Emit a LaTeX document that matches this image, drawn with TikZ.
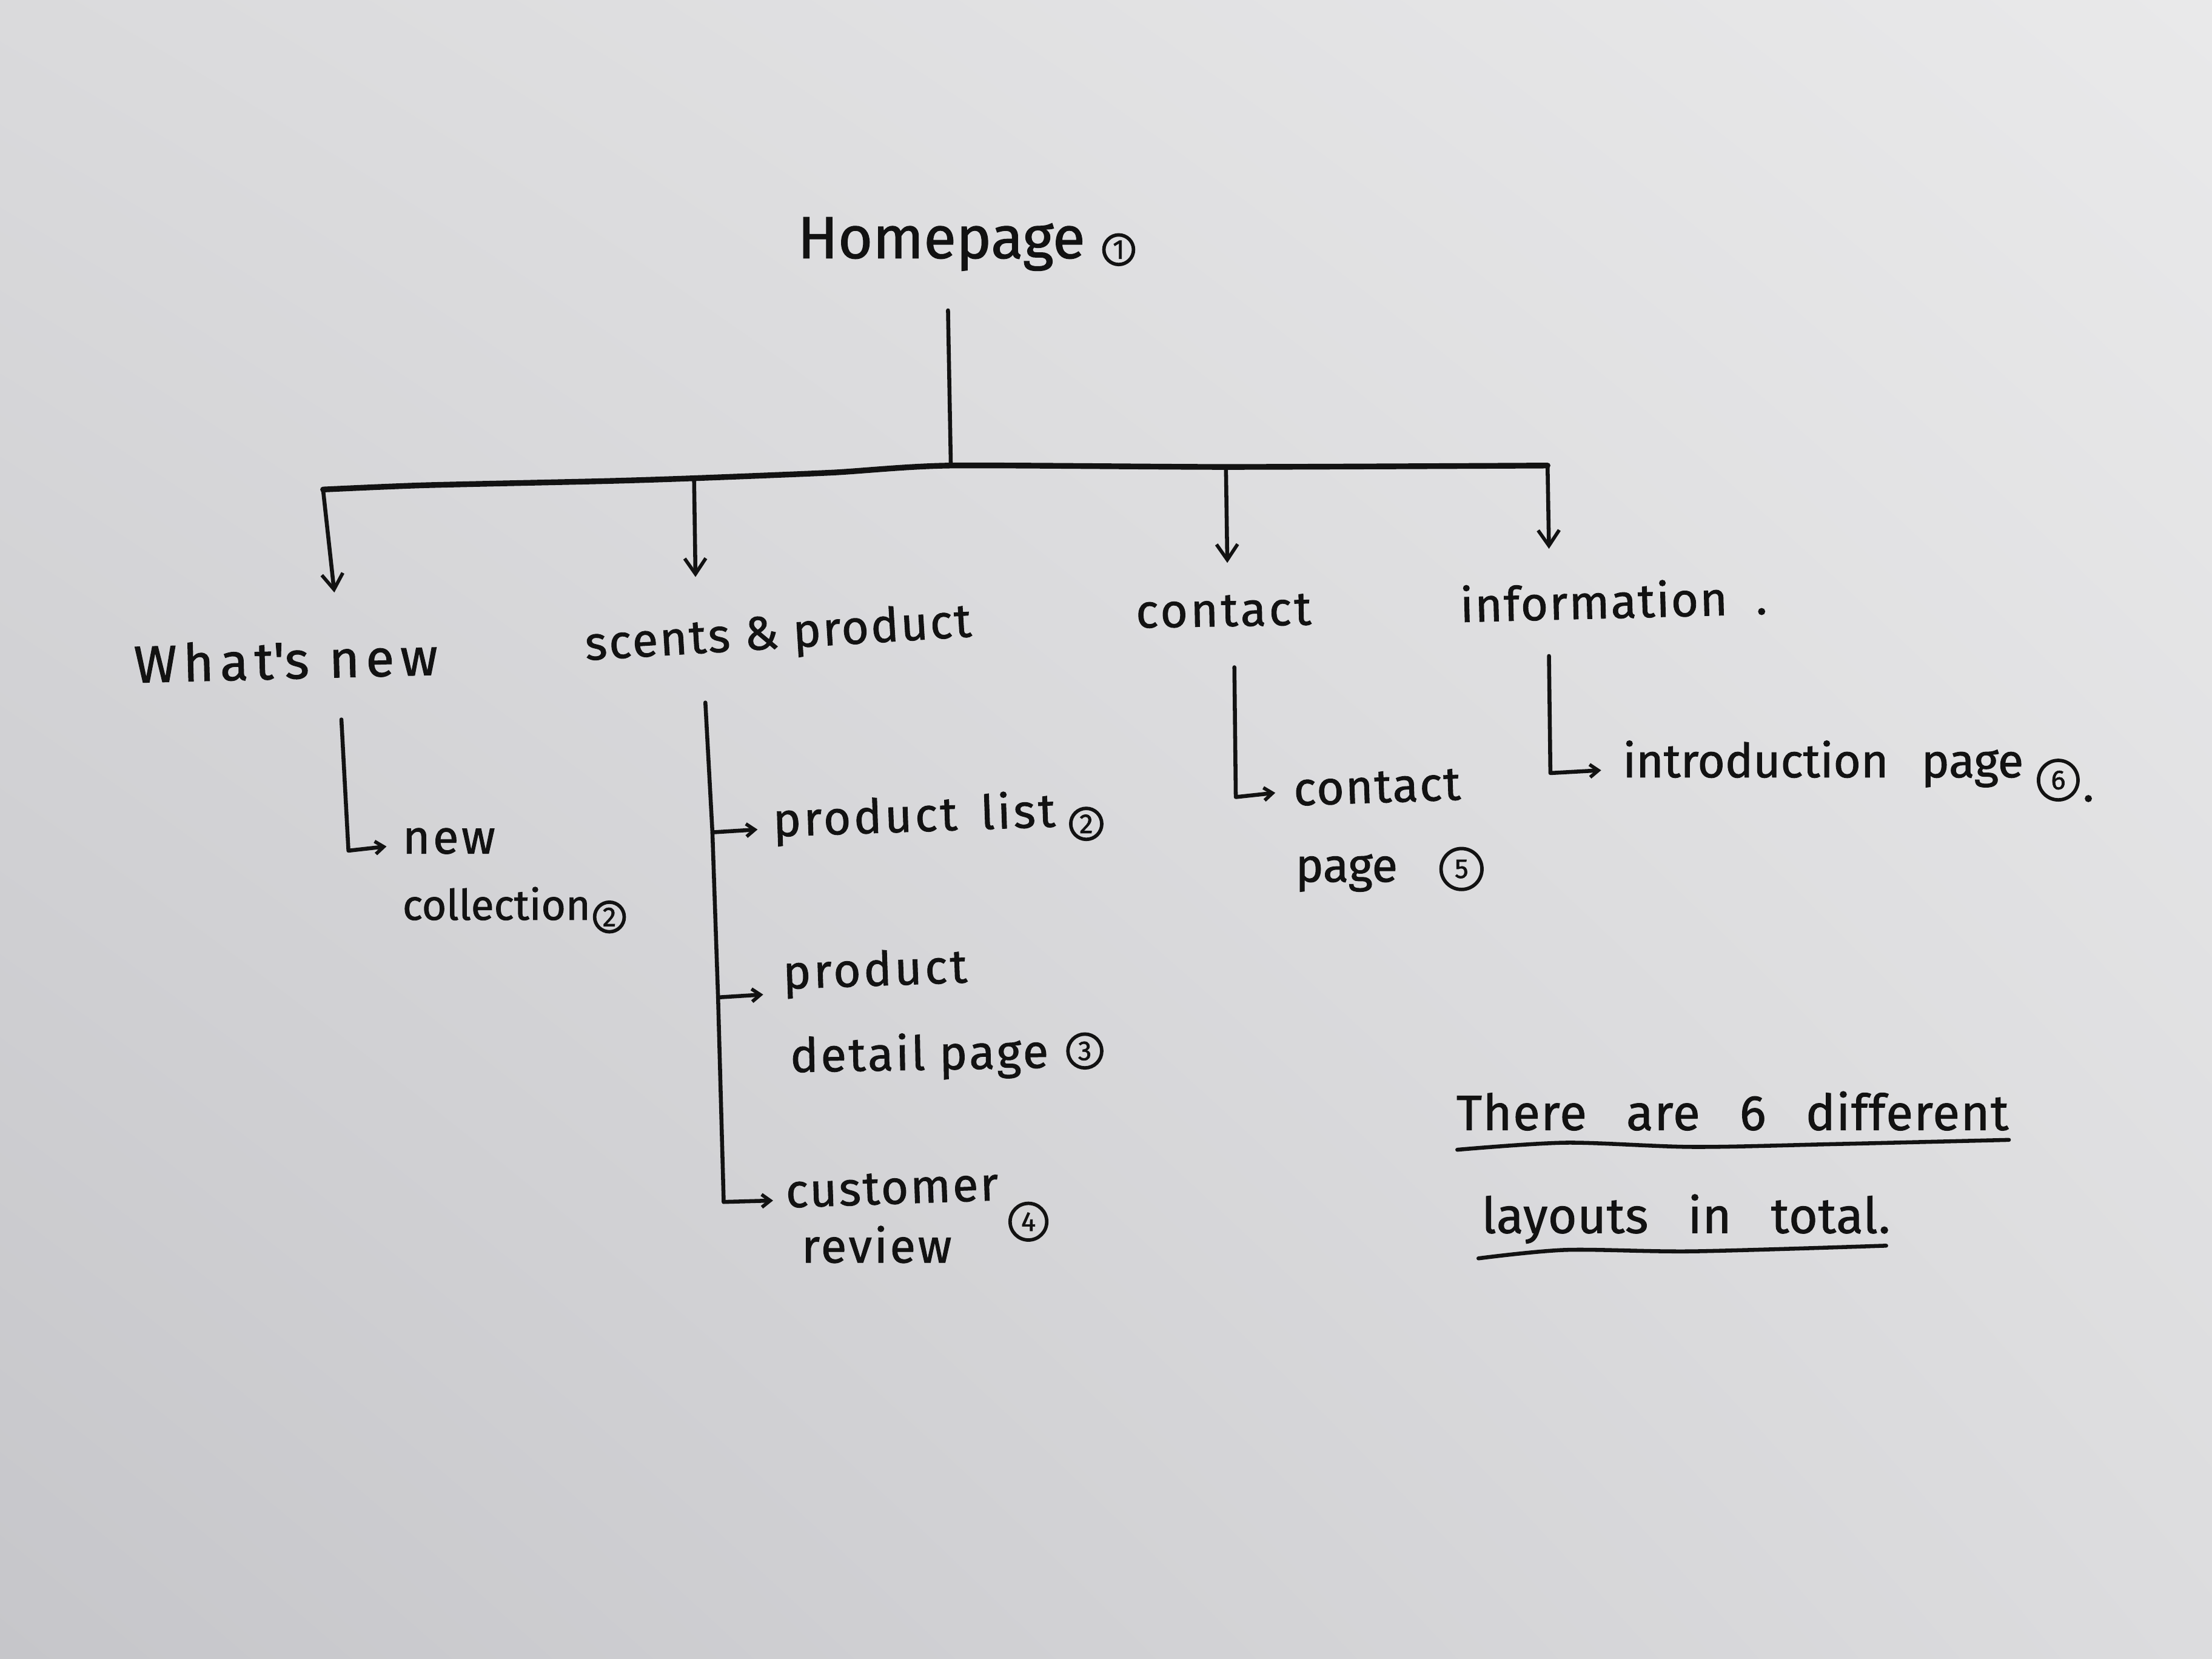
\documentclass[tikz,border=0pt]{standalone}
\usepackage{fontspec}
\setmainfont{Fira Sans}
\usetikzlibrary{arrows.meta,shadings}

\definecolor{ink}{HTML}{121212}
\definecolor{paperTL}{RGB}{218,218,220}
\definecolor{paperTR}{RGB}{233,233,234}
\definecolor{paperBL}{RGB}{198,198,202}
\definecolor{paperBR}{RGB}{220,220,222}
% font size (pt) and extra letter spacing, with a slightly heavier pen
\newcommand\hf[2]{\fontsize{#1pt}{#1pt}\selectfont\addfontfeatures{LetterSpace=#2,FakeBold=1.2}}

\tikzset{
  hand/.style={text=ink, inner sep=0pt, anchor=base west},
  wire/.style={draw=ink, line width=1.6pt, line cap=round, line join=round},
  drop/.style={wire, -{Straight Barb[length=2.2mm,width=3mm,line width=1.4pt]}},
  twig/.style={wire, -{Straight Barb[length=1.2mm,width=1.8mm,line width=1.4pt]}},
  num/.style={circle, draw=ink, line width=1.4pt, inner sep=0pt, text=ink,
              minimum size=#1, font=\fontsize{11pt}{11pt}\selectfont\addfontfeatures{FakeBold=1.5}},
  num/.default=0.44cm
}

\begin{document}
\begin{tikzpicture}[x=0.02cm,y=-0.02cm]
  % sheet of paper
  \useasboundingbox (0,0) rectangle (1568,1176);
  \shade[upper left=paperTL, upper right=paperTR,
         lower left=paperBL, lower right=paperBR]
    (0,0) rectangle (1568,1176);

  % ---- root ----
  \node[hand, font=\hf{24}{0}] (home) at (565,183) {Homepage};
  \node[num=0.42cm] (c1) at (793,177) {1};

  % ---- first level labels ----
  \node[hand, font=\hf{21}{12}, rotate=1.5] (whatsnew) at (95,484) {What\textquotesingle s new};
  \node[hand, font=\hf{19}{4}, rotate=3.5] (scents) at (415,468) {scents \& product};
  \node[hand, font=\hf{19}{6}, rotate=1] (contact) at (805,445) {contact};
  \node[hand, font=\hf{19}{3}, rotate=1.5] (info) at (1035,441) {information\hspace{0.6em}.};

  % ---- connectors from the root ----
  \coordinate (hometail) at (672,220);
  \coordinate (barL) at (229,347);
  \coordinate (barS) at (492,339);
  \coordinate (barH) at (674,330);
  \coordinate (barC) at (869,331);
  \coordinate (barR) at (1097,330);
  \coordinate (tipW) at (237,420);
  \coordinate (tipS) at (493,409);
  \coordinate (tipC) at (870,399);
  \coordinate (tipI) at (1098,389);

  \draw[wire] (hometail) -- (barH);
  \draw[wire, line width=2.3pt] plot[smooth, tension=0.4]
    coordinates {(barL) (300,344) (430,341) (barS) (590,335) (barH) (barC) (barR)};
  \draw[drop] (barL) -- (tipW);
  \draw[drop] (barS) -- (tipS);
  \draw[drop] (barC) -- (tipC);
  \draw[drop] (barR) -- (tipI);

  % ---- what's new branch ----
  \coordinate (wTop) at (242,510);
  \coordinate (wCorner) at (247,603);
  \coordinate (wTip) at (274,600);
  \node[hand, font=\hf{19}{6}] (newA) at (285,605) {new};
  \node[hand, font=\hf{17}{0}] (newB) at (285,652) {collection};
  \node[num=0.42cm] (c2a) at (432,650) {2};
  \draw[twig] (wTop) -- (wCorner) -- (wTip);

  % ---- scents & product branch ----
  \coordinate (sTop) at (500,498);
  \coordinate (sJ1) at (505,590);
  \coordinate (sJ2) at (509,707);
  \coordinate (sCorner) at (513,852);
  \coordinate (sT1) at (537,588);
  \coordinate (sT2) at (541,705);
  \coordinate (sT3) at (548,851);
  \node[hand, font=\hf{19}{6}, rotate=2] (plist) at (548,593) {product\hspace{0.5em}list};
  \node[num=0.44cm] (c2b) at (770,584) {2};
  \node[hand, font=\hf{19}{6}, rotate=2] (prodA) at (555,701) {product};
  \node[hand, font=\hf{19}{5}, rotate=1] (prodB) at (560,760) {detail\hspace{0.3em}page};
  \node[num=0.48cm] (c3) at (769,745) {3};
  \node[hand, font=\hf{19}{4}, rotate=2] (custA) at (557,856) {customer};
  \node[hand, font=\hf{19}{5}] (custB) at (568,895) {review};
  \node[num=0.52cm] (c4) at (729,866) {4};
  \draw[wire] (sTop) -- (sJ1) -- (sJ2) -- (sCorner);
  \draw[twig] (sJ1) -- (sT1);
  \draw[twig] (sJ2) -- (sT2);
  \draw[twig] (sCorner) -- (sT3);

  % ---- contact branch ----
  \coordinate (cTop) at (875,473);
  \coordinate (cCorner) at (876,565);
  \coordinate (cTip) at (904,562);
  \node[hand, font=\hf{19}{3}, rotate=2] (cpA) at (917,571) {contact};
  \node[hand, font=\hf{19}{0}] (cpB) at (918,625) {page};
  \node[num=0.58cm] (c5) at (1036,616) {5};
  \draw[twig] (cTop) -- (cCorner) -- (cTip);

  % ---- information branch ----
  \coordinate (iTop) at (1098,465);
  \coordinate (iCorner) at (1099,548);
  \coordinate (iTip) at (1135,546);
  \node[hand, font=\hf{19}{0}] (intro) at (1150,551) {introduction\hspace{0.7em}page};
  \node[num=0.56cm] (c6) at (1459,553) {6};
  \node[hand, font=\hf{19}{0}] (dot) at (1476,568) {.};
  \draw[twig] (iTop) -- (iCorner) -- (iTip);

  % ---- note ----
  \node[hand, font=\hf{20}{2}] (noteA) at (1032,801)
    {There\hspace{0.8em}are\hspace{0.8em}6\hspace{0.8em}different};
  \node[hand, font=\hf{20}{1}] (noteB) at (1050,874)
    {layouts\hspace{0.8em}in\hspace{0.8em}total.};
  \draw[wire] plot[smooth, tension=0.5]
    coordinates {(1033,815) (1110,810) (1200,813) (1300,811) (1424,808)};
  \draw[wire] plot[smooth, tension=0.5]
    coordinates {(1048,892) (1110,886) (1200,887) (1337,883)};
\end{tikzpicture}
\end{document}
